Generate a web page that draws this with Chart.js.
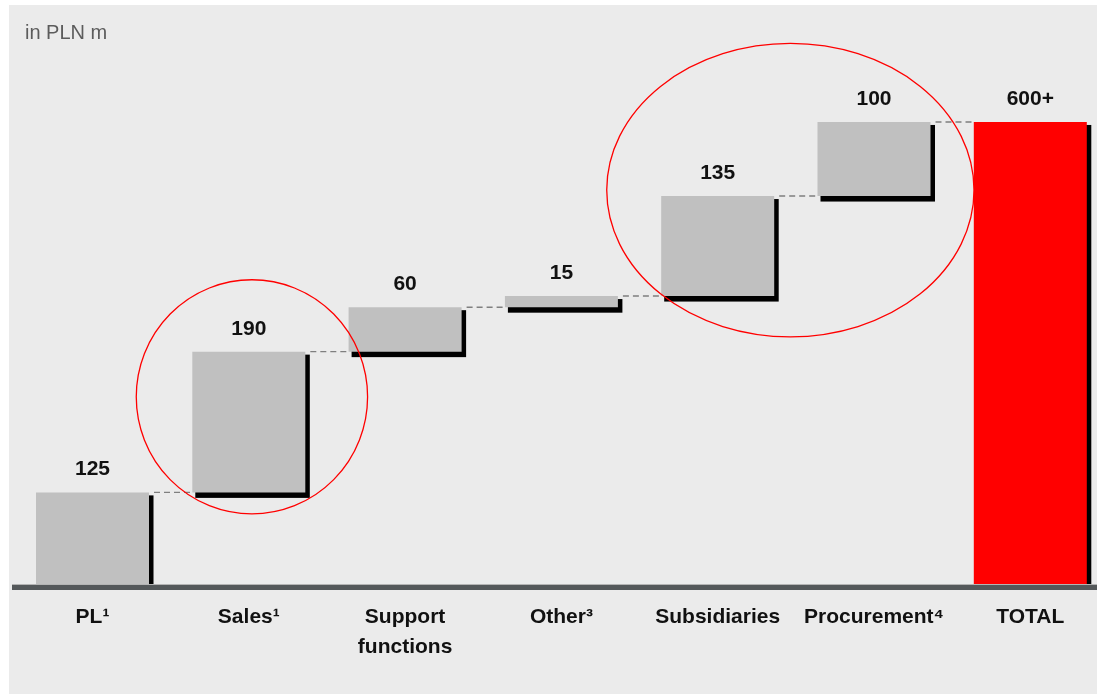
<!DOCTYPE html>
<html>
<head>
<meta charset="utf-8">
<script src="https://cdn.jsdelivr.net/npm/chart.js@4/dist/chart.umd.min.js"></script>
<style>
  html, body { margin: 0; padding: 0; background: #fff; overflow: hidden; }
  #wrap { width: 1097px; height: 695px; overflow: hidden; }
  canvas { display: block; }
</style>
</head>
<body>
<div id="wrap"><canvas id="chart" width="1110" height="695"></canvas></div>
<script>
const categories = [['PL¹'], ['Sales¹'], ['Support', 'functions'], ['Other³'], ['Subsidiaries'], ['Procurement⁴'], ['TOTAL']];
const steps = [125, 190, 60, 15, 135, 100];
const totalValue = 625;
const valueLabels = ['125', '190', '60', '15', '135', '100', '600+'];
const unitLabel = 'in PLN m';

// red ellipses: centre in category index / value units, radii in the same units
const highlights = [
  { cx: 1.02, cy: 254, rx: 0.74, ry: 158 },
  { cx: 4.465, cy: 533, rx: 1.175, ry: 198 }
];

const FONT = "'Liberation Sans', Arial, sans-serif";

// floating bars [start, end]
let run = 0;
const ranges = steps.map(v => { const r = [run, run + v]; run += v; return r; });
ranges.push([0, totalValue]);
const colors = steps.map(() => '#c0c0c0').concat(['#ff0000']);

const waterfallDecor = {
  id: 'waterfallDecor',
  beforeDraw(chart) {
    const ctx = chart.ctx;
    ctx.save();
    ctx.fillStyle = '#ffffff';
    ctx.fillRect(0, 0, chart.width, chart.height);
    ctx.fillStyle = '#ebebeb';
    ctx.fillRect(9, 5, 1088, 689);
    ctx.fillStyle = '#5c5c5c';
    ctx.font = `20px ${FONT}`;
    ctx.textBaseline = 'alphabetic';
    ctx.fillText(unitLabel, 25, 39);
    ctx.restore();
  },
  beforeDatasetsDraw(chart) {
    const ctx = chart.ctx, area = chart.chartArea;
    const bars = chart.getDatasetMeta(0).data;
    ctx.save();
    ctx.beginPath();
    ctx.rect(0, 0, chart.width, area.bottom);
    ctx.clip();
    ctx.fillStyle = '#000';
    bars.forEach(b => {
      const left = b.x - b.width / 2;
      const top = Math.min(b.y, b.base), h = Math.abs(b.base - b.y);
      ctx.fillRect(left + 3, top + 3, b.width + 1.5, h + 2.5);
    });
    ctx.restore();
  },
  afterDatasetsDraw(chart) {
    const ctx = chart.ctx, area = chart.chartArea;
    const bars = chart.getDatasetMeta(0).data;
    const x = chart.scales.x, y = chart.scales.y;
    ctx.save();
    // dashed connectors
    ctx.strokeStyle = '#7f7f7f';
    ctx.lineWidth = 1.4;
    ctx.setLineDash([6, 4]);
    for (let i = 0; i < bars.length - 1; i++) {
      const yy = y.getPixelForValue(ranges[i][1]);
      const x0 = bars[i].x + bars[i].width / 2 + 5;
      const x1 = bars[i + 1].x - bars[i + 1].width / 2;
      ctx.beginPath();
      ctx.moveTo(x0, yy);
      ctx.lineTo(x1, yy);
      ctx.stroke();
    }
    ctx.setLineDash([]);
    // baseline
    ctx.fillStyle = '#b4b4b4';
    ctx.fillRect(12, area.bottom - 1, chart.width, 1);
    ctx.fillStyle = '#54585a';
    ctx.fillRect(12, area.bottom, chart.width, 5);
    // value labels
    ctx.fillStyle = '#111';
    ctx.font = `bold 21px ${FONT}`;
    ctx.textAlign = 'center';
    ctx.textBaseline = 'alphabetic';
    bars.forEach((b, i) => {
      ctx.fillText(valueLabels[i], b.x, Math.min(b.y, b.base) - 17);
    });
    // red ellipses
    ctx.strokeStyle = '#ff0000';
    ctx.lineWidth = 1.3;
    const unitX = x.getPixelForValue(1) - x.getPixelForValue(0);
    const unitY = y.getPixelForValue(0) - y.getPixelForValue(1);
    highlights.forEach(e => {
      ctx.beginPath();
      ctx.ellipse(x.getPixelForValue(e.cx), y.getPixelForValue(e.cy), e.rx * unitX, e.ry * unitY, 0, 0, Math.PI * 2);
      ctx.stroke();
    });
    ctx.restore();
  }
};

new Chart(document.getElementById('chart'), {
  type: 'bar',
  data: {
    labels: categories,
    datasets: [{
      data: ranges,
      backgroundColor: colors,
      borderWidth: 0,
      barPercentage: 0.723,
      categoryPercentage: 1
    }]
  },
  options: {
    responsive: false,
    devicePixelRatio: 1,
    animation: false,
    layout: { padding: { top: 66.4, left: 14.35, right: 1.55, bottom: 0 } },
    plugins: { legend: { display: false }, tooltip: { enabled: false } },
    scales: {
      y: { display: false, min: 0, max: 700 },
      x: {
        grid: { display: false, drawTicks: false },
        border: { display: false },
        ticks: {
          color: '#111',
          font: { family: FONT, size: 21, weight: 'bold', lineHeight: 1.43 },
          padding: 17,
          maxRotation: 0,
          autoSkip: false
        },
        afterFit(scale) { scale.height = 110; }
      }
    }
  },
  plugins: [waterfallDecor]
});
</script>
</body>
</html>
